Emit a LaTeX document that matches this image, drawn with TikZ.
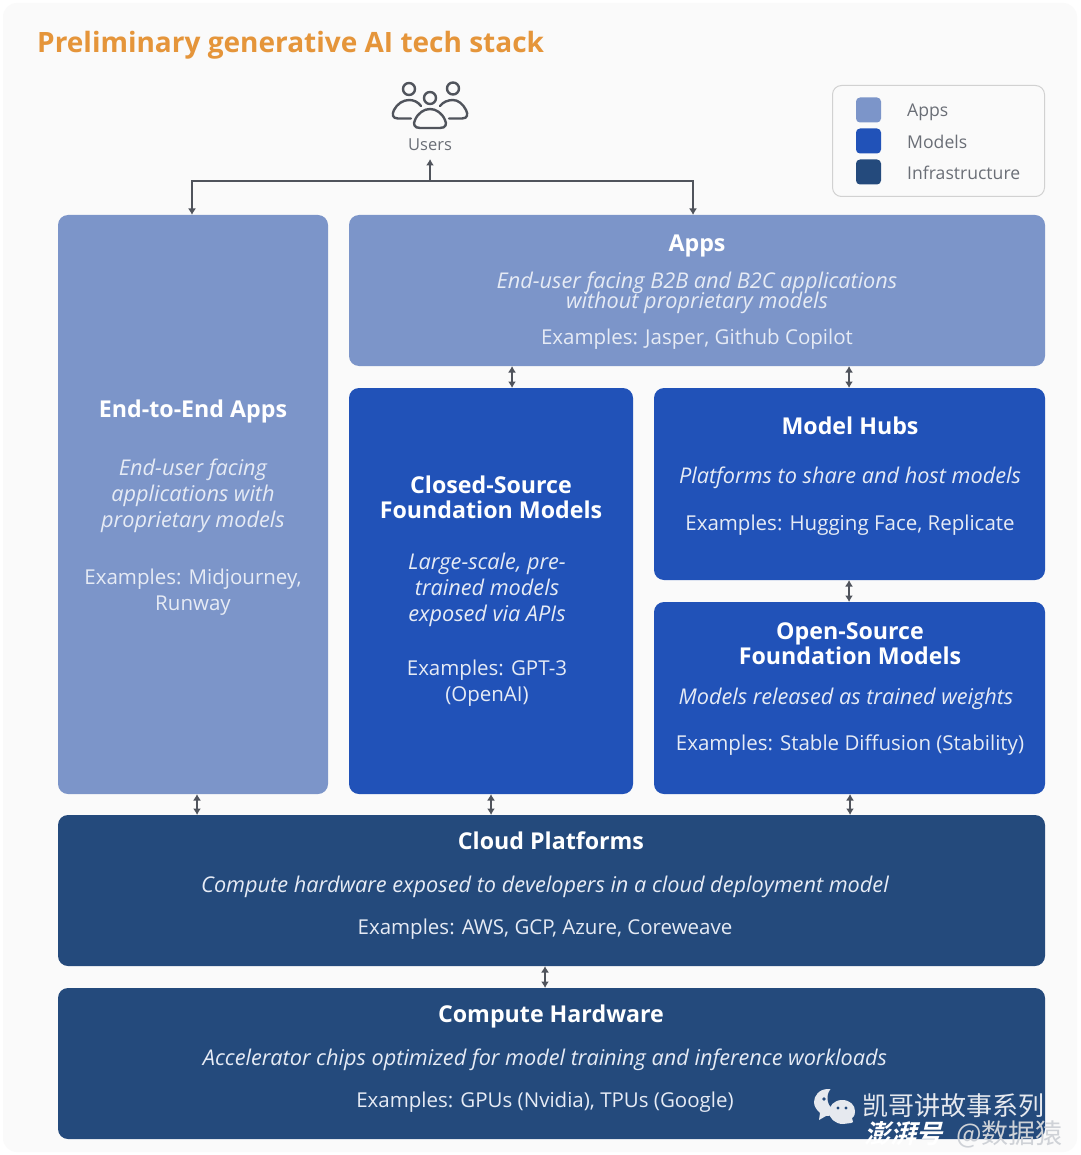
\documentclass[tikz,border=0pt]{standalone}
\usepackage{fontspec}
\setmainfont{Open Sans}
\newfontfamily\cjk{Noto Sans CJK SC}
\newfontfamily\cjkslant[FakeSlant=0.25]{Noto Sans CJK SC Bold}
\usetikzlibrary{arrows.meta}
\setlength{\lineskiplimit}{-10pt}
\definecolor{appc}{HTML}{7C95C9}
\definecolor{modc}{HTML}{2152B8}
\definecolor{infc}{HTML}{244A7C}
\definecolor{titlec}{HTML}{E5953A}
\definecolor{linec}{HTML}{50545C}
\definecolor{softw}{HTML}{E6EBF5}
\definecolor{panel}{HTML}{FAFAFA}
\definecolor{legt}{HTML}{6A6E76}
\definecolor{wm}{HTML}{E6E9EF}
\tikzset{
  x=1pt,y=-1pt,
  block/.style={draw=none,fill=#1,rounded corners=10pt,inner sep=0pt,outer sep=0pt},
  head/.style={text=white,align=center,inner sep=0pt,font=\bfseries\fontsize{23.2}{25}\selectfont},
  desc/.style={text=softw,align=center,inner sep=0pt,font=\itshape\fontsize{21.7}{26}\selectfont},
  eg/.style={text=softw,align=center,inner sep=0pt,font=\fontsize{20.5}{26}\selectfont},
  legtext/.style={text=legt,anchor=west,inner sep=0pt,font=\fontsize{17.6}{22}\selectfont},
  swatch/.style={fill=#1,rounded corners=4pt,draw=none},
  wire/.style={draw=linec,line width=1.6pt},
  tip/.style={-{Latex[length=6.5pt,width=8pt]},wire},
  both/.style={{Latex[length=6.5pt,width=8pt]}-{Latex[length=6.5pt,width=8pt]},wire},
  icon/.style={draw=linec,line width=2.4pt,line cap=round,line join=round},
  wmtext/.style={text=wm,anchor=west,inner sep=0pt},
}
% box by pixel corners: name, x0, y0, x1, y1, colour
\newcommand{\mybox}[6]{\node[block=#6,minimum width=#4pt-#2pt,minimum height=#5pt-#3pt,anchor=north west] (#1) at (#2,#3) {};}
\begin{document}
\begin{tikzpicture}
\useasboundingbox (0,0) rectangle (1080,1155);
\fill[white] (0,0) rectangle (1080,1155);
\fill[panel,rounded corners=14pt] (3,3) rectangle (1077,1152);

\node[anchor=west,inner sep=0pt,text=titlec,font=\bfseries\fontsize{28}{32}\selectfont] (title) at (37,45) {Preliminary generative AI tech stack};

% users icon
\draw[icon] (409,89) circle (6);
\draw[icon] (453,88.5) circle (6);
\draw[icon] (430,98) circle (6);
\draw[icon] (411,118.5) -- (398,118.5) .. controls (392,118.5) and (392,114) .. (394,110) .. controls (397,104) and (403,100) .. (409,100) .. controls (414,100) and (418,102) .. (421,106);
\draw[icon] (449,118.5) -- (462,118.5) .. controls (468,118.5) and (468,114) .. (466,110) .. controls (463,104) and (458,100) .. (453,100) .. controls (448,100) and (443,102) .. (440,106);
\draw[icon] (420,128) .. controls (414,128) and (413,124) .. (415,120) .. controls (418,113) and (424,109) .. (430,109) .. controls (436,109) and (442,113) .. (445,120) .. controls (447,124) and (446,128) .. (440,128) -- cycle;
\node[inner sep=0pt,text=legt,font=\fontsize{16.5}{18}\selectfont] (users) at (430,145) {Users};

% legend
\node[draw=black!18,fill=panel,line width=1pt,rounded corners=9pt,minimum width=212pt,minimum height=111pt,anchor=north west,inner sep=0pt] (legend) at (832,85) {};
\node[swatch=appc,minimum width=25pt,minimum height=25pt,inner sep=0pt] (sa) at (868.5,110) {};
\node[swatch=modc,minimum width=25pt,minimum height=25pt,inner sep=0pt] (sm) at (868.5,141) {};
\node[swatch=infc,minimum width=25pt,minimum height=25pt,inner sep=0pt] (si) at (868.5,172) {};
\node[legtext] (la) at (907,112) {Apps};
\node[legtext] (lm) at (907,141.5) {Models};
\node[legtext] (li) at (907,172.5) {Infrastructure};

% blocks
\mybox{e2e}{58}{215}{328}{794}{appc}
\mybox{apps}{349}{215}{1045}{366}{appc}
\mybox{closed}{349}{388}{633}{794}{modc}
\mybox{hubs}{654}{388}{1045}{580}{modc}
\mybox{open}{654}{602}{1045}{794}{modc}
\mybox{cloud}{58}{815}{1045}{966}{infc}
\mybox{hw}{58}{988}{1045}{1139}{infc}

% texts
\node[head] (t1) at (697,246) {Apps};
\node[desc,font=\itshape\fontsize{21.7}{20}\selectfont] (t2) at (697,293) {End-user facing B2B and B2C applications\\without proprietary models};
\node[eg] (t3) at (697,339) {Examples: Jasper, Github Copilot};

\node[head] (t4) at (193,411) {End-to-End Apps};
\node[desc] (t5) at (193,496) {End-user facing\\applications with\\proprietary models};
\node[eg] (t6) at (193,592) {Examples: Midjourney,\\Runway};

\node[head] (t7) at (491,497.5) {Closed-Source\\Foundation Models};
\node[desc] (t8) at (487,590) {Large-scale, pre-\\trained models\\exposed via APIs};
\node[eg] (t9) at (487,683) {Examples: GPT-3\\(OpenAI)};

\node[head] (t10) at (850,426) {Model Hubs};
\node[desc] (t11) at (850,478) {Platforms to share and host models};
\node[eg] (t12) at (850,525) {Examples: Hugging Face, Replicate};

\node[head] (t13) at (850,643.5) {Open-Source\\Foundation Models};
\node[desc] (t14) at (846,699) {Models released as trained weights};
\node[eg] (t15) at (850,745) {Examples: Stable Diffusion (Stability)};

\node[head] (t16) at (551,841) {Cloud Platforms};
\node[desc] (t17) at (545,887) {Compute hardware exposed to developers in a cloud deployment model};
\node[eg] (t18) at (545,929) {Examples: AWS, GCP, Azure, Coreweave};

\node[head] (t19) at (551,1016) {Compute Hardware};
\node[desc] (t20) at (545,1060) {Accelerator chips optimized for model training and inference workloads};
\node[eg] (t21) at (545,1102) {Examples: GPUs (Nvidia), TPUs (Google)};

% connectors
\coordinate (j) at (430,181);
\coordinate (xe) at (192,0);
\coordinate (xa) at (693,0);
\draw[tip] (j) -- (users.south |- 0,159);
\draw[tip] (j) -| (e2e.north -| xe);
\draw[tip] (j) -| (apps.north -| xa);
\coordinate (c1) at (512,0);
\coordinate (c2) at (849,0);
\coordinate (c3) at (197,0);
\coordinate (c4) at (491,0);
\coordinate (c5) at (850,0);
\coordinate (c6) at (545,0);
\draw[both] (apps.south -| c1) -- (closed.north -| c1);
\draw[both] (apps.south -| c2) -- (hubs.north -| c2);
\draw[both] (hubs.south -| c2) -- (open.north -| c2);
\draw[both] (e2e.south -| c3) -- (cloud.north -| c3);
\draw[both] (closed.south -| c4) -- (cloud.north -| c4);
\draw[both] (open.south -| c5) -- (cloud.north -| c5);
\draw[both] (cloud.south -| c6) -- (hw.north -| c6);

% watermark
\fill[wm] (828,1089) .. controls (819,1089) and (814,1096) .. (814,1102) .. controls (814,1107) and (817,1110) .. (820,1113) -- (819,1120) -- (826,1116) .. controls (835,1116) and (843,1110) .. (843,1102) .. controls (843,1095) and (837,1089) .. (828,1089) -- cycle;
\fill[infc] (842,1098) circle (14.5);
\fill[wm] (842,1100) .. controls (834,1100) and (829,1106) .. (829,1112) .. controls (829,1118) and (835,1124) .. (843,1124) -- (851,1123) -- (853,1122) -- (852,1118) .. controls (855,1116) and (855,1113) .. (855,1111) .. controls (855,1105) and (850,1100) .. (842,1100) -- cycle;
\fill[infc] (824,1099) circle (1.8) (833,1099) circle (1.8) (838,1108) circle (1.6) (846,1108) circle (1.6);
\node[wmtext,font=\cjk\fontsize{26}{28}\selectfont] (w1) at (862,1106) {凯哥讲故事系列};
\node[wmtext,text=white,font=\cjkslant\fontsize{26}{28}\selectfont] (w2) at (864,1134) {澎湃号};
\node[wmtext,text=wm!90!black,font=\cjk\fontsize{27}{28}\selectfont] (w3) at (956,1134) {@数据猿};
\end{tikzpicture}
\end{document}
